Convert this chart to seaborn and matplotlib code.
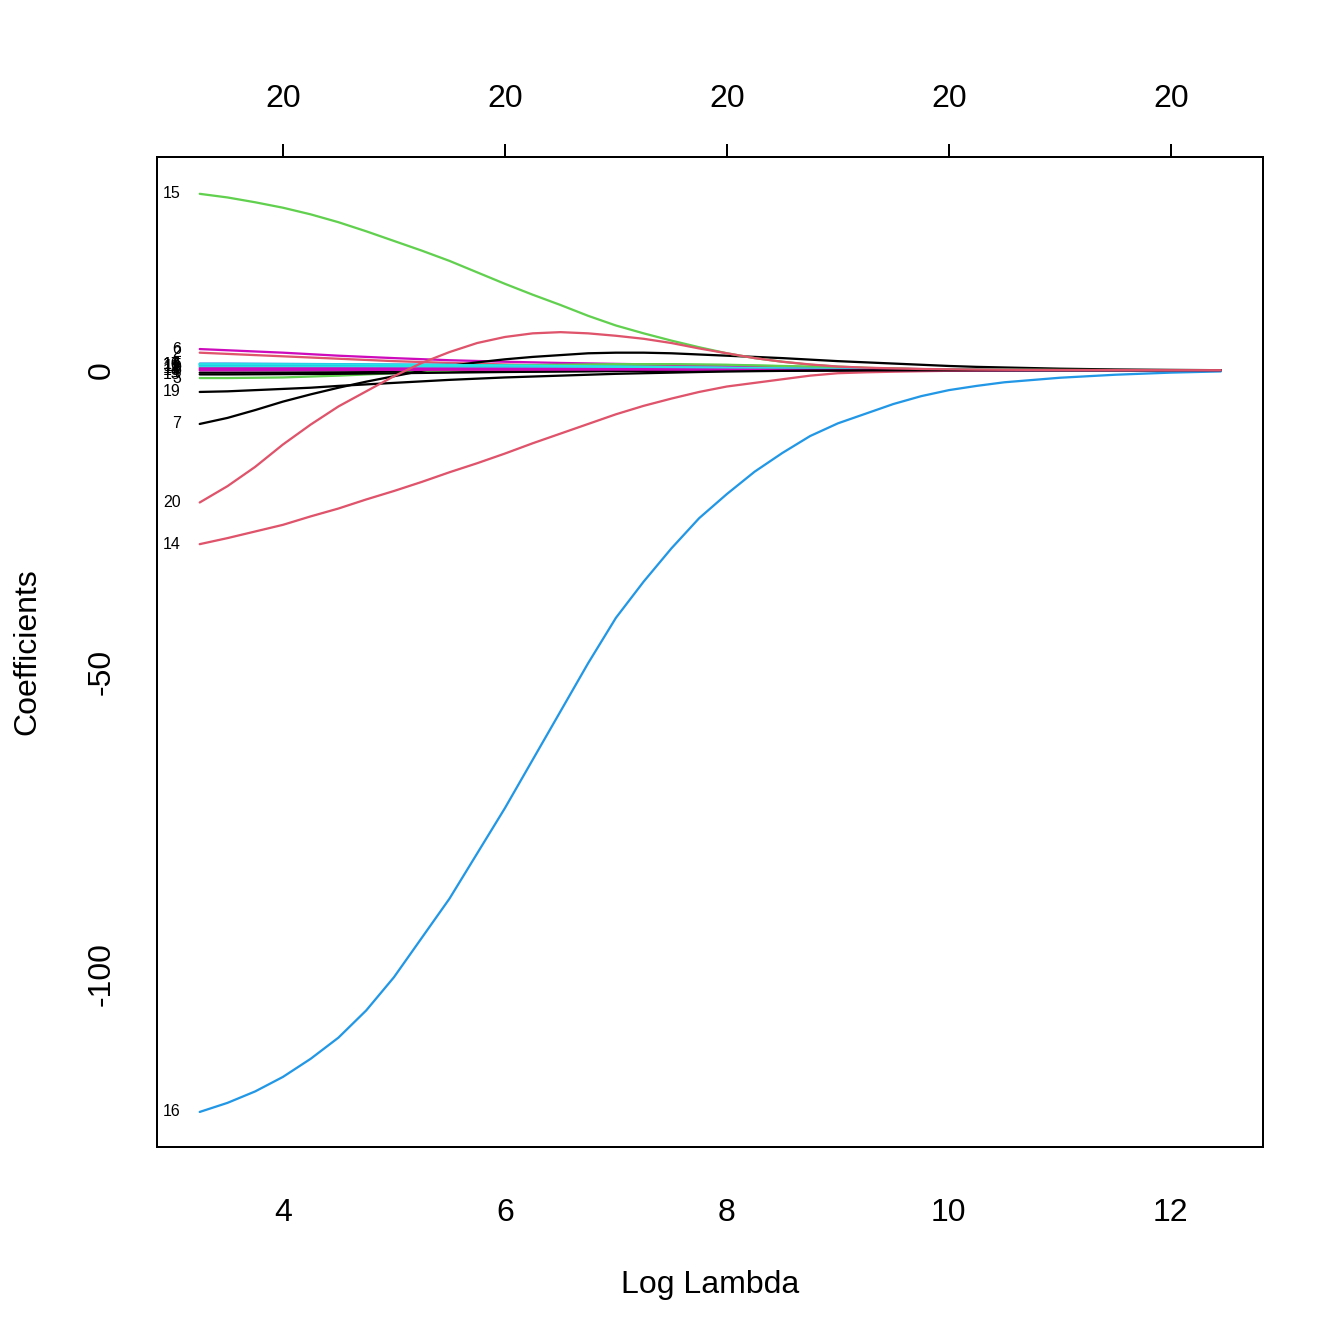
import numpy as np
import pandas as pd
import matplotlib
matplotlib.use("Agg")
import matplotlib.pyplot as plt
import seaborn as sns

# log(lambda) grids the coefficient paths are read at
fine_grid = [3.25, 3.5, 3.75, 4.0, 4.25, 4.5, 4.75, 5.0, 5.25, 5.5, 5.75, 6.0, 6.25, 6.5, 6.75, 7.0,
             7.25, 7.5, 7.75, 8.0, 8.25, 8.5, 8.75, 9.0, 9.25, 9.5, 9.75, 10.0, 10.25, 10.5,
             11.0, 11.5, 12.0, 12.45]
coarse_grid = [3.25, 3.5, 4.0, 4.5, 5.0, 5.5, 6.0, 6.5, 7.0, 7.5, 8.0, 8.5, 9.0, 9.5, 10.0, 10.5, 11.0, 12.0, 12.45]

# small paths (coarse grid)
c1 = [-0.4, -0.4, -0.38, -0.35, -0.3, -0.25, -0.2, -0.15, -0.1, -0.07, -0.05, -0.03, -0.02, -0.01, 0, 0, 0, 0, 0]
c2 = [2.9, 2.7, 2.3, 1.9, 1.5, 1.2, 0.95, 0.75, 0.6, 0.45, 0.35, 0.25, 0.15, 0.08, 0.04, 0.02, 0.01, 0, 0]
c3 = [-1.3, -1.3, -1.2, -0.9, -0.5, -0.1, 0.3, 0.6, 0.8, 0.9, 0.85, 0.65, 0.4, 0.22, 0.1, 0.05, 0.02, 0, 0]
c4 = [1.1, 1.1, 1.05, 1.0, 0.95, 0.9, 0.8, 0.7, 0.6, 0.5, 0.4, 0.3, 0.2, 0.1, 0.05, 0.02, 0.01, 0, 0]
c5 = [0.8, 0.8, 0.78, 0.75, 0.7, 0.65, 0.6, 0.52, 0.45, 0.38, 0.3, 0.22, 0.15, 0.08, 0.04, 0.02, 0.01, 0, 0]
c6 = [3.5, 3.3, 2.9, 2.4, 2.0, 1.65, 1.4, 1.2, 1.05, 0.9, 0.75, 0.6, 0.4, 0.25, 0.12, 0.06, 0.03, 0, 0]
c8 = [0.1, 0.1, 0.1, 0.1, 0.1, 0.1, 0.1, 0.1, 0.1, 0.08, 0.06, 0.04, 0.03, 0.02, 0.01, 0, 0, 0, 0]
c9 = [0.5, 0.5, 0.5, 0.55, 0.6, 0.7, 0.8, 0.9, 1.0, 1.0, 0.9, 0.7, 0.45, 0.25, 0.12, 0.06, 0.03, 0, 0]
c10 = [0.9, 0.9, 0.88, 0.85, 0.8, 0.75, 0.7, 0.6, 0.5, 0.42, 0.34, 0.25, 0.17, 0.1, 0.05, 0.02, 0.01, 0, 0]
c11 = [0.6, 0.6, 0.58, 0.55, 0.52, 0.5, 0.45, 0.4, 0.35, 0.3, 0.24, 0.18, 0.12, 0.07, 0.03, 0.02, 0.01, 0, 0]
c12 = [0.3, 0.3, 0.3, 0.3, 0.28, 0.26, 0.24, 0.22, 0.2, 0.17, 0.14, 0.1, 0.07, 0.04, 0.02, 0.01, 0, 0, 0]
c13 = [-0.7, -0.7, -0.65, -0.6, -0.5, -0.4, -0.3, -0.22, -0.15, -0.1, -0.07, -0.04, -0.02, -0.01, 0, 0, 0, 0, 0]
c17 = [1.0, 1.0, 0.98, 0.95, 0.9, 0.85, 0.78, 0.7, 0.6, 0.5, 0.4, 0.3, 0.2, 0.12, 0.06, 0.03, 0.01, 0, 0]
c18 = [0.0, 0.0, 0.02, 0.04, 0.06, 0.08, 0.1, 0.1, 0.1, 0.09, 0.08, 0.06, 0.04, 0.02, 0.01, 0, 0, 0, 0]

# large paths (fine grid)
c7 = [-8.9, -7.9, -6.6, -5.2, -4.0, -2.9, -1.9, -1.0, -0.1, 0.7, 1.3, 1.8, 2.2, 2.5, 2.8, 2.9,
      2.9, 2.8, 2.6, 2.4, 2.2, 2.0, 1.75, 1.5, 1.3, 1.1, 0.9, 0.7, 0.55, 0.45,
      0.25, 0.12, 0.05, 0]
c14 = [-28.8, -27.8, -26.7, -25.6, -24.2, -22.9, -21.4, -20.0, -18.5, -16.9, -15.4, -13.8, -12.1, -10.5, -8.9, -7.3,
       -5.9, -4.7, -3.6, -2.7, -2.1, -1.5, -0.9, -0.5, -0.35, -0.25, -0.17, -0.1, -0.07, -0.05,
       -0.02, -0.01, 0, 0]
c15 = [29.2, 28.6, 27.8, 26.9, 25.8, 24.5, 23.0, 21.4, 19.8, 18.1, 16.2, 14.3, 12.5, 10.8, 9.0, 7.4,
       6.1, 4.9, 3.8, 2.8, 2.0, 1.4, 0.9, 0.6, 0.4, 0.25, 0.15, 0.1, 0.07, 0.05,
       0.02, 0.01, 0, 0]
c16 = [-122.8, -121.3, -119.4, -117.0, -114.0, -110.5, -106.0, -100.5, -94.0, -87.5, -80.0, -72.5, -64.5, -56.5, -48.5, -41.0,
       -35.0, -29.5, -24.5, -20.5, -16.8, -13.7, -10.9, -8.8, -7.2, -5.6, -4.3, -3.3, -2.6, -2.0,
       -1.25, -0.75, -0.4, -0.2]
c19 = [-3.6, -3.5, -3.3, -3.1, -2.9, -2.6, -2.35, -2.1, -1.85, -1.6, -1.4, -1.2, -1.05, -0.9, -0.75, -0.6,
       -0.5, -0.4, -0.3, -0.22, -0.16, -0.11, -0.07, -0.05, -0.03, -0.02, -0.01, -0.01, 0, 0,
       0, 0, 0, 0]
c20 = [-21.9, -19.2, -16.0, -12.3, -9.0, -6.0, -3.5, -1.0, 1.2, 3.0, 4.5, 5.5, 6.1, 6.3, 6.1, 5.7,
       5.2, 4.5, 3.6, 2.8, 2.0, 1.4, 0.95, 0.6, 0.42, 0.3, 0.2, 0.15, 0.1, 0.07,
       0.03, 0.01, 0, 0]

paths = [c1, c2, c3, c4, c5, c6, c7, c8, c9, c10,
         c11, c12, c13, c14, c15, c16, c17, c18, c19, c20]
var_names = [str(i + 1) for i in range(len(paths))]
top_labels = ["20", "20", "20", "20", "20"]
x_ticks = [4, 6, 8, 10, 12]
y_ticks = [-100, -50, 0]

# R default palette, recycled like matplot
r_pal = ["#000000", "#DF536B", "#61D04F", "#2297E6", "#28E2E5", "#CD0BBC"]
colors = [r_pal[i % 6] for i in range(len(paths))]

rows = []
for name, vals in zip(var_names, paths):
    grid = fine_grid if len(vals) == len(fine_grid) else coarse_grid
    for x, y in zip(grid, vals):
        rows.append({"log_lambda": x, "coef": y, "var": name})
df = pd.DataFrame(rows)

sns.set_style("white")
plt.rcParams["font.family"] = ["Liberation Sans", "DejaVu Sans"]
plt.rcParams.update({"text.color": "black", "axes.labelcolor": "black",
                     "xtick.color": "black", "ytick.color": "black"})

fig = plt.figure(figsize=(7, 7), dpi=192)
ax = fig.add_axes([0.1168, 0.1466, 0.8229, 0.7366])

sns.lineplot(data=df, x="log_lambda", y="coef", hue="var", hue_order=var_names,
             palette=colors, legend=False, estimator=None, sort=True, linewidth=0.85, ax=ax)

# variable labels at the left end of each path
for name, vals in zip(var_names, paths):
    ax.text(fine_grid[0] - 0.17, vals[0], name, fontsize=6, ha="right", va="center")

ax.set_xlim(2.865, 12.83)
ax.set_ylim(-128.6, 35.3)
ax.set_xticks(x_ticks)
ax.set_xticklabels([str(t) for t in x_ticks])
ax.set_yticks(y_ticks)
ax.set_yticklabels([str(t) for t in y_ticks], rotation=90, va="center")
ax.tick_params(axis="both", direction="out", length=5, width=0.75, labelsize=12, colors="black")
ax.tick_params(axis="x", pad=14)
ax.tick_params(axis="y", pad=10)

for s in ax.spines.values():
    s.set_visible(True)
    s.set_color("black")
    s.set_linewidth(0.75)

top = ax.secondary_xaxis("top")
top.set_xticks(x_ticks)
top.set_xticklabels(top_labels)
top.tick_params(direction="out", length=5, width=0.75, labelsize=12, pad=11, colors="black")
top.spines["top"].set_visible(False)

ax.set_xlabel("")
ax.set_ylabel("")
fig.text(0.528, 0.044, "Log Lambda", fontsize=12, ha="center", va="center")
fig.text(0.020, 0.515, "Coefficients", fontsize=12, ha="center", va="center", rotation=90)

fig.savefig("out.png", dpi=192, facecolor="white")
